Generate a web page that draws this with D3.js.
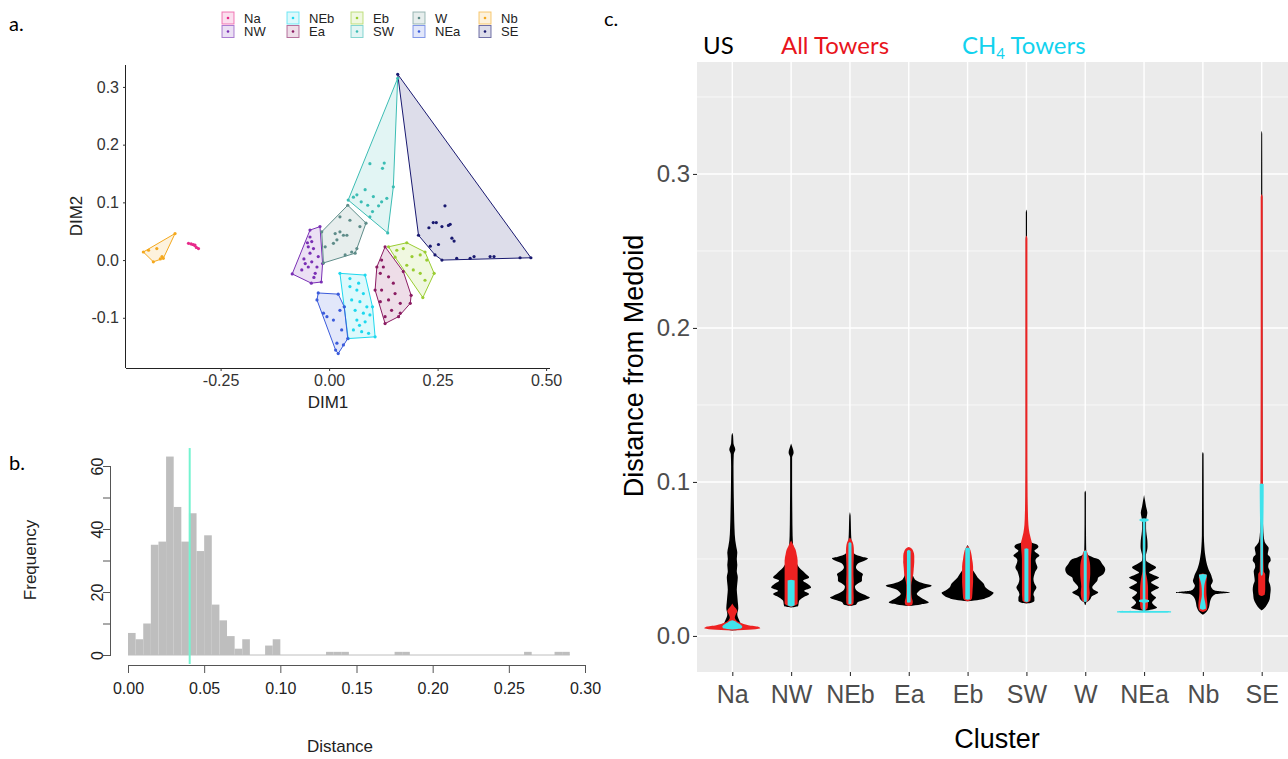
<!DOCTYPE html>
<html><head><meta charset="utf-8">
<script src="https://cdn.jsdelivr.net/npm/d3@7"></script>
<style>body{margin:0;background:#fff}svg{display:block}</style>
</head><body>
<svg id="fig" width="1288" height="759"></svg>
<script>
// ---------------- DATA ----------------
const clusterNames = ["Na","NW","NEb","Ea","Eb","SW","W","NEa","Nb","SE"];
const clusterColors = ["#E7298A","#7A2FB5","#1ED8EE","#8B1C62","#9ACD32","#3CBDB4","#5E8C89","#3B5BDB","#F4A81D","#191970"];

// Panel a: DIM1 / DIM2 coordinates per cluster
const ptsNa = [[-0.324,0.029],[-0.318,0.028],[-0.313,0.027],[-0.309,0.026],[-0.306,0.022],[-0.301,0.020]];
const ptsNW = [[-0.021,0.058],[-0.044,0.052],[-0.085,-0.024],[-0.041,-0.040],[-0.018,-0.038],[-0.015,-0.006],[-0.044,0.040],[-0.040,0.032],[-0.048,0.023],[-0.036,0.020],[-0.044,0.012],[-0.055,-0.006],[-0.040,-0.003],[-0.028,-0.012],[-0.063,-0.017],[-0.048,-0.012],[-0.032,-0.023],[-0.025,0.006],[-0.050,0.030],[-0.058,0.002],[-0.035,-0.030]];
const ptsNEb = [[0.025,-0.023],[0.083,-0.026],[0.100,-0.081],[0.106,-0.133],[0.044,-0.136],[0.035,-0.081],[0.048,-0.046],[0.064,-0.052],[0.079,-0.058],[0.052,-0.069],[0.071,-0.072],[0.087,-0.081],[0.060,-0.087],[0.079,-0.092],[0.094,-0.095],[0.064,-0.104],[0.083,-0.107],[0.056,-0.121],[0.075,-0.124],[0.091,-0.127],[0.048,-0.032],[0.068,-0.040],[0.070,-0.113]];
const ptsEa = [[0.129,0.023],[0.171,-0.020],[0.189,-0.061],[0.187,-0.075],[0.160,-0.098],[0.129,-0.110],[0.106,-0.052],[0.110,-0.012],[0.121,0.000],[0.125,-0.012],[0.118,-0.023],[0.137,-0.029],[0.148,-0.040],[0.121,-0.052],[0.152,-0.058],[0.137,-0.069],[0.118,-0.072],[0.164,-0.075],[0.144,-0.087],[0.129,-0.098],[0.164,-0.092]];
const ptsEb = [[0.137,0.023],[0.179,0.030],[0.221,0.014],[0.242,-0.023],[0.216,-0.065],[0.152,0.005],[0.156,0.017],[0.171,0.020],[0.191,0.006],[0.210,0.009],[0.225,0.000],[0.194,-0.017],[0.210,-0.023],[0.179,-0.009],[0.221,-0.035]];
const ptsSW = [[0.158,0.315],[0.044,0.104],[0.135,0.047],[0.148,0.127],[0.094,0.167],[0.127,0.168],[0.123,0.159],[0.083,0.122],[0.064,0.113],[0.056,0.109],[0.074,0.101],[0.102,0.110],[0.121,0.101],[0.133,0.107],[0.114,0.094],[0.100,0.084],[0.094,0.075],[0.089,0.095]];
const ptsW = [[0.043,0.095],[0.085,0.064],[0.060,0.012],[-0.013,-0.005],[-0.017,0.049],[0.025,0.075],[0.048,0.069],[0.071,0.058],[0.014,0.046],[0.025,0.049],[0.033,0.043],[0.041,0.043],[0.010,0.029],[0.018,0.035],[0.037,0.009],[0.052,0.014],[-0.009,0.023],[0.064,0.020]];
const ptsNEa = [[-0.025,-0.057],[0.021,-0.059],[0.035,-0.081],[0.043,-0.136],[0.021,-0.162],[0.015,-0.156],[-0.028,-0.069],[-0.013,-0.092],[-0.005,-0.098],[0.010,-0.104],[0.025,-0.087],[0.029,-0.121],[0.018,-0.144],[0.033,-0.147]];
const ptsNb = [[-0.355,0.046],[-0.428,0.014],[-0.405,-0.003],[-0.382,0.003],[-0.416,0.017],[-0.397,0.020],[-0.385,0.006],[-0.389,0.002]];
const ptsSE = [[0.158,0.322],[0.267,0.094],[0.240,0.065],[0.247,0.065],[0.230,0.056],[0.260,0.058],[0.279,0.062],[0.275,0.060],[0.283,0.038],[0.288,0.033],[0.233,0.024],[0.252,0.027],[0.206,0.043],[0.244,0.009],[0.260,0.000],[0.294,0.003],[0.325,0.003],[0.334,0.006],[0.371,0.006],[0.380,0.006],[0.440,0.004],[0.465,0.004]];
const clusterPoints = [ptsNa,ptsNW,ptsNEb,ptsEa,ptsEb,ptsSW,ptsW,ptsNEa,ptsNb,ptsSE];
const dimXTicks = [-0.25,0,0.25,0.5];
const dimXLabels = ["-0.25","0.00","0.25","0.50"];
const dimYTicks = [-0.1,0,0.1,0.2,0.3];
const dimYLabels = ["-0.1","0.0","0.1","0.2","0.3"];

// Panel b: histogram of distances (bin width 0.005, from 0 to 0.29)
const histBinWidth = 0.005;
const histCounts = [7,5,10,35,36,63,47,36,45,33,38,16,11,6,2,5,0,0,3,5,0,0,0,0,0,0,1,1,1,0,0,0,0,0,0,1,1,0,0,0,0,0,0,0,0,0,0,0,0,0,0,0,1,0,0,0,1,1];
const histThreshold = 0.0405;
const histXTicks = [0,0.05,0.10,0.15,0.20,0.25,0.30];
const histXLabels = ["0.00","0.05","0.10","0.15","0.20","0.25","0.30"];
const histYTicks = [0,10,20,30,40,50,60];
const histYLabels = ["0","","20","","40","","60"];

// Panel c: violin profiles [distance, relative width] per cluster
const usProfiles = [
 [[0.0035,0],[0.004,6],[0.005,10],[0.007,9],[0.01,7],[0.014,5],[0.018,6],[0.022,5.5],[0.026,5],[0.03,4.5],[0.034,5],[0.038,5.5],[0.042,4.5],[0.046,5],[0.05,4.5],[0.054,5],[0.058,4],[0.062,3],[0.07,2.2],[0.08,1.8],[0.09,1.5],[0.1,1.3],[0.11,1.2],[0.118,1.5],[0.121,3],[0.125,1.2],[0.13,0.8],[0.132,0]],
 [[0.0185,0],[0.0195,7],[0.0228,8],[0.025,12],[0.0272,18],[0.0293,13],[0.0315,20],[0.0336,17],[0.036,12],[0.038,18],[0.040,15],[0.042,12],[0.0445,8],[0.048,5],[0.05,3.5],[0.055,2.5],[0.065,1.5],[0.08,1.2],[0.1,1],[0.116,1],[0.119,2.5],[0.123,1],[0.125,0]],
 [[0.0195,0],[0.0203,6],[0.022,8],[0.0235,15],[0.025,20],[0.026,17],[0.028,10],[0.030,6],[0.032,5],[0.034,8],[0.0358,12],[0.038,12],[0.040,13],[0.042,9],[0.0445,6],[0.047,8],[0.049,15],[0.0505,18],[0.0515,12],[0.053,5],[0.056,2.5],[0.062,1.5],[0.07,1],[0.078,0.7],[0.0805,0]],
 [[0.0195,0],[0.0205,12],[0.0217,20],[0.0235,16],[0.025,12],[0.0272,8],[0.029,10],[0.0304,13],[0.031,16],[0.0326,23],[0.034,15],[0.0358,8],[0.038,5],[0.040,4],[0.042,4],[0.0455,4.5],[0.048,5],[0.0505,4],[0.052,0]],
 [[0.0225,0],[0.0235,12],[0.025,20],[0.0265,24],[0.028,26],[0.0295,22],[0.0315,18],[0.034,16],[0.036,13],[0.038,10],[0.040,8],[0.042,6],[0.044,4],[0.048,3],[0.053,2.5],[0.057,1.5],[0.059,0]],
 [[0.021,0],[0.0215,5],[0.0228,8],[0.025,8],[0.027,7],[0.029,8],[0.0315,10],[0.034,8],[0.037,7],[0.0401,8],[0.042,9],[0.0445,11],[0.0465,10],[0.0489,9],[0.0505,10],[0.0521,13],[0.0535,11],[0.0554,8],[0.0565,10],[0.058,12],[0.0595,10],[0.061,4],[0.065,1.5],[0.075,0.8],[0.1,0.6],[0.2,0.6],[0.275,0.6],[0.277,0]],
 [[0.0200,0],[0.0206,0.6],[0.0217,1],[0.0225,3],[0.0239,5],[0.026,7],[0.027,10],[0.0282,13],[0.0298,9],[0.0315,7],[0.0335,9],[0.0358,12],[0.0379,13],[0.0401,18],[0.0434,20],[0.0467,17],[0.0499,13],[0.051,8],[0.053,2],[0.056,1],[0.065,0.8],[0.08,0.7],[0.093,0.7],[0.0945,0]],
 [[0.0163,0],[0.0172,8],[0.0185,13],[0.020,10],[0.0217,8],[0.0235,10],[0.025,12],[0.0265,9],[0.0282,7],[0.030,11],[0.0315,15],[0.033,11],[0.0347,7],[0.0365,11],[0.038,15],[0.0395,10],[0.0412,5],[0.0425,8],[0.0445,12],[0.047,6],[0.049,2],[0.052,1.8],[0.0555,3],[0.058,3.5],[0.062,3.3],[0.066,2.5],[0.07,2],[0.075,2],[0.077,2.5],[0.08,3.3],[0.084,2],[0.088,1],[0.0915,0]],
 [[0.0137,0],[0.0152,3],[0.0185,6],[0.0217,7],[0.024,8],[0.026,10],[0.027,12],[0.0275,18],[0.0282,27],[0.0288,20],[0.0295,12],[0.031,9],[0.0326,8],[0.034,9],[0.0358,10],[0.038,9],[0.0401,8],[0.042,6.5],[0.0445,5],[0.048,3.5],[0.051,2.7],[0.054,2],[0.058,1.5],[0.065,1],[0.08,0.9],[0.1,0.8],[0.118,0.7],[0.1194,0]],
 [[0.0165,0],[0.019,4],[0.021,6],[0.024,8],[0.027,8.5],[0.03,9],[0.033,8.5],[0.036,7],[0.039,7.5],[0.042,8],[0.045,6.5],[0.047,7],[0.049,9],[0.051,8.5],[0.053,6],[0.055,6.5],[0.057,7],[0.059,5],[0.061,3],[0.065,2],[0.07,1.5],[0.08,1],[0.1,0.8],[0.2,0.7],[0.29,0.6],[0.326,0.5],[0.328,0]]
];
const allTowerProfiles = [
 [[0.0035,0],[0.0042,20],[0.005,28],[0.006,26],[0.007,16],[0.0085,8],[0.010,4],[0.012,2.5],[0.014,3.5],[0.016,5],[0.018,3.5],[0.0195,1.5],[0.021,0]],
 [[0.0188,0],[0.021,6.5],[0.03,6.5],[0.04,6.5],[0.049,6.5],[0.053,5.5],[0.056,4.5],[0.058,3],[0.060,1.5],[0.062,0]],
 [[0.0195,0],[0.021,3.5],[0.025,3.8],[0.03,3.5],[0.035,3.8],[0.04,3.5],[0.045,3.5],[0.05,3.8],[0.055,4],[0.059,3.5],[0.062,2],[0.064,0]],
 [[0.0195,0],[0.0205,3.5],[0.022,4],[0.025,3],[0.029,2.5],[0.033,2.5],[0.037,3.5],[0.040,4.5],[0.044,5],[0.048,5.5],[0.052,5.5],[0.055,4.5],[0.057,2.5],[0.0578,0]],
 [[0.0225,0],[0.0235,3.5],[0.025,4.5],[0.03,5],[0.035,5.5],[0.04,5.5],[0.045,5.5],[0.05,4.5],[0.054,3.5],[0.057,2],[0.0585,0]],
 [[0.0215,0],[0.023,4],[0.03,4.5],[0.04,4.5],[0.05,4.5],[0.055,5],[0.06,5.5],[0.063,4.5],[0.067,3],[0.072,2],[0.08,1.5],[0.09,1.2],[0.12,1],[0.2,1],[0.258,1],[0.26,0]],
 [[0.022,0],[0.0225,2.5],[0.025,4],[0.028,4.5],[0.032,4],[0.036,4.5],[0.04,5],[0.044,5],[0.048,4.5],[0.052,3],[0.055,1.5],[0.056,0]],
 [[0.0165,0],[0.018,3.5],[0.021,4],[0.025,4],[0.03,4],[0.035,3.5],[0.039,2.5],[0.042,1.5],[0.05,1.2],[0.075,1.2],[0.0755,0]],
 [[0.0155,0],[0.017,4],[0.020,4.5],[0.024,4],[0.028,3.5],[0.032,3.5],[0.035,3.5],[0.038,4],[0.040,3],[0.0405,0]],
 [[0.026,0],[0.027,3],[0.03,3.5],[0.035,3.5],[0.040,3.5],[0.042,2],[0.06,1.5],[0.1,1.2],[0.12,1.1],[0.2,1],[0.285,1],[0.287,0]]
];
const ch4Profiles = [
 [[0.0042,0],[0.0045,5],[0.005,9],[0.006,10],[0.0075,8],[0.0085,5],[0.0095,3],[0.0102,0]],
 [[0.0192,0],[0.02,3.5],[0.036,3.5],[0.0365,0]],
 [[0.0205,0],[0.021,1.5],[0.060,1.5],[0.061,0]],
 [[0.0215,0],[0.022,1.8],[0.055,1.8],[0.056,0]],
 [[0.0235,0],[0.024,2.3],[0.057,2.3],[0.0575,0]],
 [[0.022,0],[0.0225,2],[0.0565,2],[0.057,0]],
 [[0.022,0],[0.0225,1.5],[0.055,1.5],[0.0555,0]],
 [[0.015,0],[0.0153,27],[0.016,27],[0.0163,1.3],[0.0215,1.3],[0.0222,5],[0.0232,5],[0.0238,1.3],[0.074,1.3],[0.0748,4.5],[0.0758,4.5],[0.0765,0]],
 [[0.017,0],[0.0178,3],[0.021,2.5],[0.024,1.5],[0.027,1],[0.031,1.2],[0.034,1.8],[0.037,3],[0.0398,4],[0.0403,0]],
 [[0.039,0],[0.04,1],[0.045,1.2],[0.06,1.3],[0.07,1.5],[0.08,1.8],[0.0985,2],[0.099,0]]
];
const violinYTicks = [0,0.1,0.2,0.3];
const violinYLabels = ["0.0","0.1","0.2","0.3"];
const violinMinor = [0.05,0.15,0.25,0.35];

// ---------------- DRAW ----------------
const svg = d3.select("#fig");
const sans = "'Liberation Sans', Arial, sans-serif";
const cal = "Lato, 'Open Sans', sans-serif";

// ===== Panel a =====
const xA = d3.scaleLinear().domain([-0.468,0.509]).range([126,550]);
const yA = d3.scaleLinear().domain([-0.187,0.338]).range([368,65]);
const gA = svg.append("g");
gA.append("text").attr("x",9).attr("y",31).attr("font-family",cal).attr("font-size",20).text("a.");

clusterPoints.forEach((pts,i)=>{
  const px = pts.map(p=>[xA(p[0]),yA(p[1])]);
  const hull = px.length>=3 ? d3.polygonHull(px) : px;
  gA.append("path").attr("d","M"+hull.map(p=>p.join(",")).join("L")+"Z")
    .attr("fill",clusterColors[i]).attr("fill-opacity",0.15)
    .attr("stroke",clusterColors[i]).attr("stroke-width",1).attr("stroke-linejoin","round");
});
clusterPoints.forEach((pts,i)=>{
  gA.selectAll(null).data(pts).enter().append("circle")
    .attr("cx",d=>xA(d[0])).attr("cy",d=>yA(d[1])).attr("r",1.6)
    .attr("fill",clusterColors[i]);
});
// axes
const axAx = gA.append("g").attr("transform","translate(0,368)")
  .call(d3.axisBottom(xA).tickValues(dimXTicks).tickFormat((d,i)=>dimXLabels[i]).tickSize(3).tickPadding(4));
axAx.select(".domain").attr("d","M126,0.5H550").attr("stroke","#222");
const axAy = gA.append("g").attr("transform","translate(126,0)")
  .call(d3.axisLeft(yA).tickValues(dimYTicks).tickFormat((d,i)=>dimYLabels[i]).tickSize(3).tickPadding(4));
axAy.select(".domain").attr("d","M-0.5,65V368").attr("stroke","#222");
[axAx,axAy].forEach(a=>{a.selectAll("text").attr("font-family",sans).attr("font-size",16).attr("fill","#333");a.selectAll("line").attr("stroke","#333");});
gA.append("text").attr("x",328).attr("y",408).attr("text-anchor","middle").attr("font-family",sans).attr("font-size",17).attr("fill","#222").text("DIM1");
gA.append("text").attr("transform","translate(82,216) rotate(-90)").attr("text-anchor","middle").attr("font-family",sans).attr("font-size",17).attr("fill","#222").text("DIM2");
// legend (2 rows, filled by column)
const legCols = [222,287,351,413,479];
clusterNames.forEach((n,i)=>{
  const c = Math.floor(i/2), r = i%2;
  const bx = legCols[c], by = 12 + r*13.5;
  const g = gA.append("g");
  g.append("rect").attr("x",bx).attr("y",by).attr("width",12).attr("height",12)
    .attr("fill",clusterColors[i]).attr("fill-opacity",0.15).attr("stroke",clusterColors[i]).attr("stroke-opacity",0.6).attr("stroke-width",1);
  g.append("circle").attr("cx",bx+6).attr("cy",by+6).attr("r",1.3).attr("fill",clusterColors[i]);
  g.append("text").attr("x",bx+22).attr("y",by+10.5).attr("font-family",sans).attr("font-size",13).attr("fill","#222").text(n);
});

// ===== Panel b =====
const xB = d3.scaleLinear().domain([0,0.30]).range([128,585]);
const yB = d3.scaleLinear().domain([0,60]).range([655,466]);
const gB = svg.append("g");
gB.append("text").attr("x",9).attr("y",470).attr("font-family",cal).attr("font-size",20).text("b.");
gB.append("line").attr("x1",xB(0)).attr("x2",xB(histCounts.length*histBinWidth)).attr("y1",yB(0)).attr("y2",yB(0)).attr("stroke","#bebebe").attr("stroke-width",1);
gB.selectAll("rect.bar").data(histCounts).enter().append("rect").attr("class","bar")
  .attr("x",(d,i)=>xB(i*histBinWidth)).attr("width",xB(histBinWidth)-xB(0))
  .attr("y",d=>yB(d)).attr("height",d=>yB(0)-yB(d)).attr("fill","#bebebe");
gB.append("line").attr("x1",xB(histThreshold)).attr("x2",xB(histThreshold)).attr("y1",yB(65.7)).attr("y2",664).attr("stroke","#74f4d0").attr("stroke-width",2);
const bx = gB.append("g").attr("transform","translate(0,665)")
  .call(d3.axisBottom(xB).tickValues(histXTicks).tickFormat((d,i)=>histXLabels[i]).tickSize(8).tickPadding(10));
bx.select(".domain").attr("d",`M${xB(0)},0.5H${xB(0.3)}`);
const by = gB.append("g").attr("transform","translate(111,0)")
  .call(d3.axisLeft(yB).tickValues(histYTicks).tickFormat((d,i)=>histYLabels[i]).tickSize(8).tickPadding(6));
by.select(".domain").attr("d",`M-0.5,${yB(0)}V${yB(60)}`);
by.selectAll(".tick text").attr("text-anchor","middle").attr("x",0).attr("y",0).attr("dy","0.35em").attr("transform","translate(-14,0) rotate(-90)");
[bx,by].forEach(a=>{a.selectAll("text").attr("font-family",sans).attr("font-size",16).attr("fill","#222");a.selectAll("line,path").attr("stroke","#555");});
gB.append("text").attr("x",340).attr("y",752).attr("text-anchor","middle").attr("font-family",sans).attr("font-size",17).attr("fill","#222").text("Distance");
gB.append("text").attr("transform","translate(36,560) rotate(-90)").attr("text-anchor","middle").attr("font-family",sans).attr("font-size",17).attr("fill","#222").text("Frequency");

// ===== Panel c =====
const xC = d3.scalePoint().domain(clusterNames).range([697,1297]).padding(0.6);
const yC = d3.scaleLinear().domain([-0.0234,0.374]).range([672,60]);
const wC = d3.scaleLinear().domain([0,30]).range([0,30*xC.step()/58.8]);
const gC = svg.append("g");
gC.append("text").attr("x",604).attr("y",26).attr("font-family",cal).attr("font-size",20).text("c.");
gC.append("text").attr("x",703).attr("y",54).attr("font-family",cal).attr("font-size",24).attr("fill","#000").text("US");
gC.append("text").attr("x",781).attr("y",54).attr("font-family",cal).attr("font-size",24).attr("fill","#e8141c").text("All Towers");
const ch4 = gC.append("text").attr("x",962).attr("y",54).attr("font-family",cal).attr("font-size",24).attr("fill","#12d2ee");
ch4.append("tspan").text("CH");
ch4.append("tspan").attr("font-size",15).attr("dy",5).text("4");
ch4.append("tspan").attr("dy",-5).text(" Towers");

gC.append("rect").attr("x",697).attr("y",62).attr("width",600).attr("height",610).attr("fill","#ebebeb");
violinMinor.forEach(v=>gC.append("line").attr("x1",697).attr("x2",1297).attr("y1",yC(v)).attr("y2",yC(v)).attr("stroke","#fff").attr("stroke-width",0.7));
violinYTicks.forEach(v=>gC.append("line").attr("x1",697).attr("x2",1297).attr("y1",yC(v)).attr("y2",yC(v)).attr("stroke","#fff").attr("stroke-width",1.4));
clusterNames.forEach(n=>gC.append("line").attr("x1",xC(n)).attr("x2",xC(n)).attr("y1",62).attr("y2",672).attr("stroke","#fff").attr("stroke-width",1.4));

const layers = [[usProfiles,"#000000"],[allTowerProfiles,"#ee2222"],[ch4Profiles,"#3fe3ec"]];
layers.forEach(([profiles,color])=>{
  profiles.forEach((prof,i)=>{
    const cx = xC(clusterNames[i]);
    const area = d3.area().curve(d3.curveMonotoneY)
      .x0(d=>cx-wC(d[1])).x1(d=>cx+wC(d[1])).y(d=>yC(d[0]));
    gC.append("path").attr("d",area(prof)).attr("fill",color);
  });
});

const cy = gC.append("g").attr("transform","translate(697,0)")
  .call(d3.axisLeft(yC).tickValues(violinYTicks).tickFormat((d,i)=>violinYLabels[i]).tickSize(4).tickPadding(3));
const cxAx = gC.append("g").attr("transform","translate(0,672)")
  .call(d3.axisBottom(xC).tickSize(4).tickPadding(9));
[cy,cxAx].forEach(a=>{a.select(".domain").remove();a.selectAll("line").attr("stroke","#333").attr("stroke-width",1.1);a.selectAll("text").attr("font-family",sans).attr("font-size",24).attr("fill","#4d4d4d");});
cxAx.selectAll("text").attr("font-size",25);
gC.append("text").attr("x",997).attr("y",748).attr("text-anchor","middle").attr("font-family",sans).attr("font-size",27).attr("fill","#000").text("Cluster");
gC.append("text").attr("transform","translate(643,366) rotate(-90)").attr("text-anchor","middle").attr("font-family",sans).attr("font-size",27).attr("fill","#000").text("Distance from Medoid");
</script>
</body></html>
